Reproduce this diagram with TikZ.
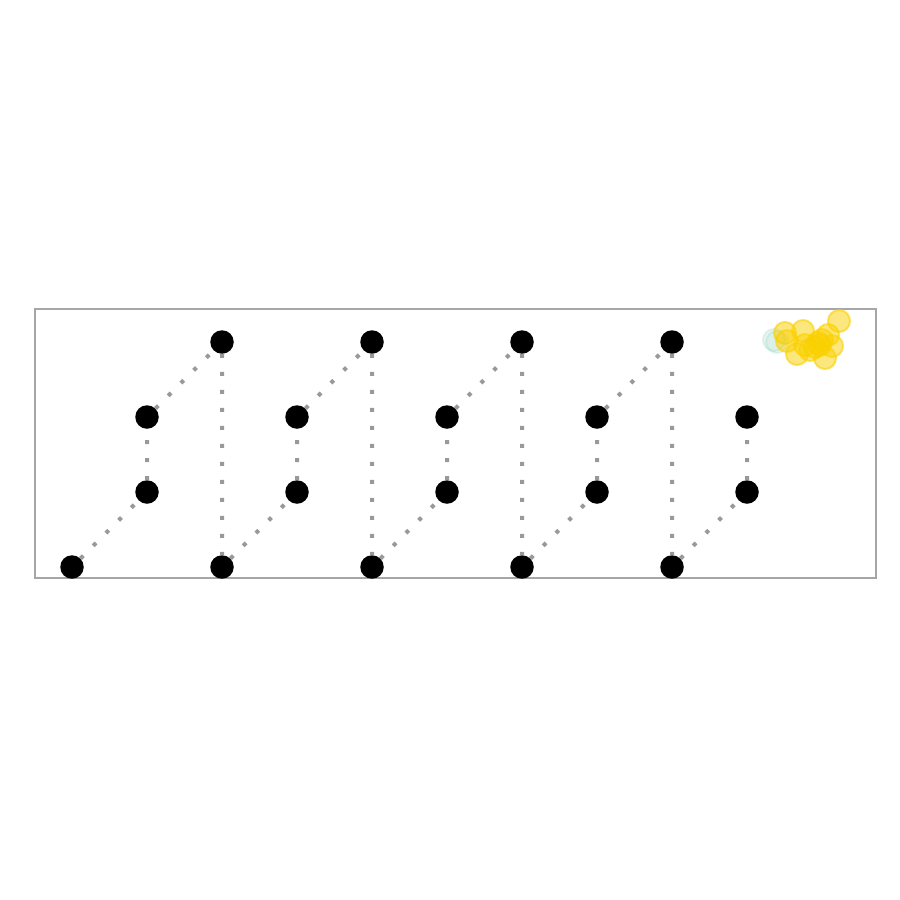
\documentclass[tikz,border=0pt]{standalone}
\usetikzlibrary{positioning}
\definecolor{linkgray}{RGB}{153,153,153}
\definecolor{framegray}{RGB}{166,166,166}
\definecolor{blobyellow}{RGB}{250,208,0}
\definecolor{blobteal}{RGB}{120,200,175}
\tikzset{
  bead/.style={circle, fill=black, minimum size=23.5pt, inner sep=0pt},
  link/.style={linkgray, line width=4pt, dash pattern=on 4pt off 14pt},
  blob/.style={fill=blobyellow, fill opacity=0.5, draw=blobyellow, draw opacity=0.6, line width=2pt},
  tealblob/.style={fill=blobteal, fill opacity=0.15, draw=blobteal, draw opacity=0.2, line width=2pt}
}

\begin{document}
\begin{tikzpicture}[x=1pt, y=-1pt]
  \useasboundingbox (0,0) rectangle (900,900);
  \draw[framegray, line width=2pt] (35,309) rectangle (876,578);

  % zigzag beads
  \foreach \i in {0,2,4,6,8}
    \node[bead] (b\i) at ({72+75*\i},567) {};
  \foreach \i in {2,4,6,8}
    \node[bead] (t\i) at ({72+75*\i},342) {};
  \foreach \i in {1,3,5,7,9} {
    \node[bead] (lo\i) at ({72+75*\i},492) {};
    \node[bead] (hi\i) at ({72+75*\i},417) {};
  }

  % dotted links
  \foreach \i/\j in {0/1,2/3,4/5,6/7,8/9}
    \draw[link] (b\i) -- (lo\j) -- (hi\j);
  \foreach \j/\k in {1/2,3/4,5/6,7/8}
    \draw[link] (hi\j) -- (t\k) -- (b\k);

  % cluster in the corner
  \foreach \p in {(777,342),(774,340)}
    \filldraw[tealblob] \p circle (11);
  \foreach \p in {(785,333),(803,331),(839,321),(787,341),(828,335),(797,354),(825,358),(832,346),(818,343),(810,350),(822,340),(815,347),(805,345),(820,345)}
    \filldraw[blob] \p circle (11);
\end{tikzpicture}
\end{document}
